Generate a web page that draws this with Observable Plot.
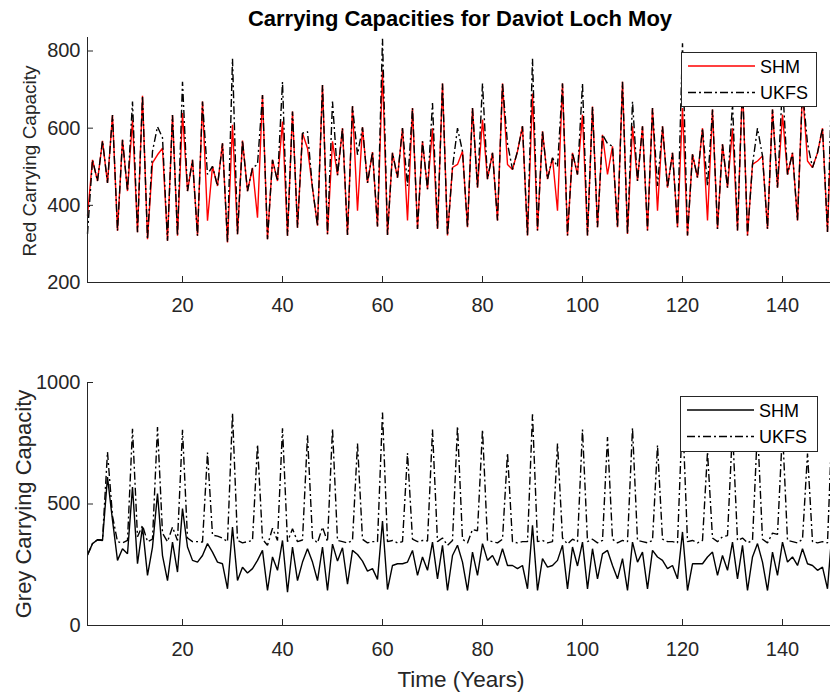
<!DOCTYPE html>
<html>
<head>
<meta charset="utf-8">
<script src="https://cdn.jsdelivr.net/npm/d3@7"></script>
<script src="https://cdn.jsdelivr.net/npm/@observablehq/plot@0.6"></script>
<style>
html, body { margin: 0; padding: 0; background: #fff; }
#wrap { position: relative; width: 830px; height: 693px; overflow: hidden; background: #fff; }
</style>
</head>
<body>
<div id="wrap"></div>
<script>
// ---------- data ----------
const title = "Carrying Capacities for Daviot Loch Moy";
const xLabel = "Time (Years)";
const redLabel = "Red Carrying Capacity";
const greyLabel = "Grey Carrying Capacity";
const seriesNames = ["SHM", "UKFS"];

const years = d3.range(1, 151);

const redSHM = [373,518,463,567,458,634,334,570,437,621,
 330,684,312,510,531,548,308,634,321,639,
 437,518,321,669,360,501,450,561,304,609,
 325,568,437,497,368,686,312,518,463,617,
 321,643,342,587,548,445,347,712,325,566,
 478,600,323,657,386,602,458,538,345,750,
 323,536,472,600,361,652,339,566,442,600,
 339,716,322,498,506,540,343,652,446,622,
 468,536,361,716,506,493,540,605,322,690,
 335,592,468,523,386,716,322,536,480,635,
 322,656,343,583,480,553,343,720,326,605,
 463,605,335,652,386,605,446,536,343,652,
 322,532,472,600,361,648,339,558,446,600,
 335,716,322,506,515,528,339,648,446,635,
 480,536,361,700,515,498,536,600,331,700];

const redUKFS = [326,518,463,567,458,634,334,570,437,669,
 330,684,312,540,604,575,308,634,321,720,
 437,518,321,669,480,501,450,561,304,780,
 325,568,437,497,506,686,312,518,463,720,
 321,643,342,587,591,445,347,712,325,669,
 478,600,323,657,531,602,458,538,345,832,
 323,536,472,600,450,652,339,566,442,665,
 339,716,322,498,600,540,343,652,446,716,
 468,536,361,716,560,493,540,605,322,780,
 335,592,468,523,500,716,322,536,480,716,
 322,656,343,583,560,553,343,720,326,669,
 463,605,335,652,450,605,446,536,343,820,
 322,532,472,600,450,648,339,558,446,665,
 335,716,322,506,600,528,339,648,446,716,
 480,536,361,700,560,498,536,600,331,790];

const greySHM = [290,337,353,350,611,433,268,316,295,570,
 254,405,206,323,543,288,185,343,220,481,
 323,268,261,288,337,302,261,254,151,405,
 185,240,216,234,268,309,144,282,227,350,
 137,323,185,261,316,261,185,323,144,335,
 265,320,170,309,292,265,224,234,190,430,
 148,247,254,254,261,309,206,282,227,343,
 192,330,144,288,330,261,144,302,206,337,
 268,288,247,316,247,247,234,247,151,412,
 144,275,240,247,268,330,151,323,245,343,
 151,316,192,295,309,247,192,275,144,343,
 261,302,151,309,282,268,234,247,192,385,
 144,254,254,254,282,302,206,288,227,343,
 192,330,144,282,337,261,144,302,206,343,
 261,282,247,316,254,247,227,240,151,412];

const greyUKFS = [290,337,353,352,714,450,345,340,350,810,
 365,412,345,355,817,380,345,405,350,805,
 360,345,345,343,712,372,368,360,345,874,
 350,340,345,350,745,355,330,400,350,812,
 345,398,345,352,783,360,340,405,345,810,
 350,345,340,350,749,355,340,345,345,876,
 345,350,340,345,710,355,345,350,348,806,
 345,360,330,350,820,355,340,395,390,806,
 350,345,340,355,710,345,340,345,345,869,
 345,350,340,345,749,360,335,355,345,806,
 345,355,340,350,776,355,340,350,345,813,
 350,345,340,350,742,355,345,345,340,880,
 345,350,340,350,715,360,345,365,370,810,
 350,360,340,350,815,355,340,380,375,805,
 350,345,340,355,708,345,340,345,340,880];

const xTicks = [20, 40, 60, 80, 100, 120, 140];
const redTicks = [200, 400, 600, 800];
const greyTicks = [0, 500, 1000];

// ---------- styling ----------
const FONT = '"Liberation Sans", Arial, Helvetica, sans-serif';
const AXIS = "#262626";
const DASHDOT = "8,3,2,3";
const LW = 1.4;

const toRows = (vals) => years.map((t, i) => ({t, v: vals[i]}));
const wrap = document.getElementById("wrap");

function panel({top, height, mTop, mBottom, yDomain, yTicks, series, xPad}) {
  const svg = Plot.plot({
    width: 830,
    height,
    marginTop: mTop,
    marginBottom: mBottom,
    marginLeft: 87,
    marginRight: -2,
    style: `font-family: ${FONT}; font-size: 20px; color: ${AXIS}; background: transparent; overflow: hidden;`,
    x: {domain: [1, 150], label: null},
    y: {domain: yDomain, label: null},
    marks: [
      ...series.map(s => Plot.line(toRows(s.values), {
        x: "t", y: "v", stroke: s.color, strokeWidth: LW,
        strokeDasharray: s.dash || null, strokeLinejoin: "miter", strokeLinecap: "butt"
      })),
      Plot.ruleX([1], {stroke: AXIS, strokeWidth: 1}),
      Plot.ruleY([yDomain[0]], {stroke: AXIS, strokeWidth: 1}),
      Plot.axisX({ticks: xTicks, tickFormat: d3.format("d"), tickSize: -6, tickPadding: xPad, fontSize: 20, label: null, stroke: AXIS}),
      Plot.axisY({ticks: yTicks, tickFormat: d3.format("d"), tickSize: -6, tickPadding: 13, fontSize: 20, label: null, stroke: AXIS})
    ]
  });
  svg.style.position = "absolute";
  svg.style.left = "0px";
  svg.style.top = top + "px";
  wrap.appendChild(svg);
}

panel({
  top: 0, height: 320, mTop: 37, mBottom: 38, yDomain: [200, 835], yTicks: redTicks, xPad: 21,
  series: [
    {values: redSHM, color: "#ff0000"},
    {values: redUKFS, color: "#000000", dash: DASHDOT}
  ]
});

panel({
  top: 330, height: 363, mTop: 52, mBottom: 68, yDomain: [0, 1000], yTicks: greyTicks, xPad: 22,
  series: [
    {values: greySHM, color: "#000000"},
    {values: greyUKFS, color: "#000000", dash: DASHDOT}
  ]
});

// ---------- overlay: title, labels, legends ----------
const ov = d3.select(wrap).append("svg")
  .attr("width", 830).attr("height", 693)
  .style("position", "absolute").style("left", "0px").style("top", "0px")
  .style("font-family", FONT);

ov.append("text").attr("x", 460).attr("y", 26).attr("text-anchor", "middle")
  .attr("font-weight", "bold").attr("font-size", 22).attr("fill", "#000").text(title);

ov.append("text").attr("transform", "translate(36,161) rotate(-90)").attr("text-anchor", "middle")
  .attr("font-size", 19).attr("fill", AXIS).text(redLabel);
ov.append("text").attr("transform", "translate(31,504) rotate(-90)").attr("text-anchor", "middle")
  .attr("font-size", 22).attr("fill", AXIS).text(greyLabel);
ov.append("text").attr("x", 461).attr("y", 687).attr("text-anchor", "middle")
  .attr("font-size", 22.5).attr("fill", AXIS).text(xLabel);

function legend(x0, y0, w, h, items) {
  const g = ov.append("g");
  g.append("rect").attr("x", x0 + 0.5).attr("y", y0 + 0.5).attr("width", w).attr("height", h)
    .attr("fill", "#fff").attr("stroke", AXIS).attr("stroke-width", 1);
  items.forEach((it, i) => {
    const ly = y0 + 14 + i * 26.5;
    g.append("line").attr("x1", x0 + 7).attr("x2", x0 + 74).attr("y1", ly).attr("y2", ly)
      .attr("stroke", it.color).attr("stroke-width", LW).attr("stroke-dasharray", it.dash || null);
    g.append("text").attr("x", x0 + 79).attr("y", ly + 6.5).attr("font-size", 18)
      .attr("fill", "#000").text(it.name);
  });
}
legend(681, 52, 135, 54, [
  {name: seriesNames[0], color: "#ff0000"},
  {name: seriesNames[1], color: "#000000", dash: DASHDOT}
]);
legend(680, 396, 137, 55, [
  {name: seriesNames[0], color: "#000000"},
  {name: seriesNames[1], color: "#000000", dash: DASHDOT}
]);
</script>
</body>
</html>
